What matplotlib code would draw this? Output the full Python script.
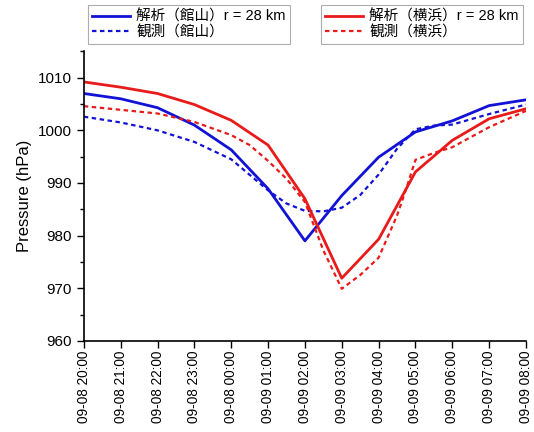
import matplotlib.pyplot as plt
from matplotlib.ticker import MultipleLocator

plt.rcParams['font.family'] = ['Liberation Sans', 'Noto Sans CJK JP']

# hours after 09-08 20:00
tick_labels = ["09-08 20:00", "09-08 21:00", "09-08 22:00", "09-08 23:00",
               "09-08 00:00", "09-09 01:00", "09-09 02:00", "09-09 03:00",
               "09-09 04:00", "09-09 05:00", "09-09 06:00", "09-09 07:00",
               "09-09 08:00"]
hours = list(range(13))

# analysis (hourly)
tateyama_ana = [1007.0, 1006.0, 1004.3, 1001.0, 996.3, 988.9, 979.0,
                987.6, 994.9, 999.7, 1001.8, 1004.7, 1005.8]
yokohama_ana = [1009.2, 1008.2, 1007.0, 1004.9, 1001.9, 997.2, 987.0,
                971.9, 979.3, 992.1, 998.1, 1002.2, 1004.1]

# observation
tateyama_obs_t = [0, 1, 2, 3, 4, 5, 5.5, 6, 6.5, 7, 7.5, 8, 8.5, 9, 9.5, 10, 11, 12]
tateyama_obs = [1002.6, 1001.5, 1000.0, 997.8, 994.5, 988.6, 986.1, 984.7, 984.6,
                985.3, 987.7, 991.6, 996.5, 1000.2, 1000.9, 1001.1, 1003.1, 1004.9]
yokohama_obs_t = [0, 1, 2, 3, 4, 4.5, 5, 5.5, 6, 6.5, 7, 7.5, 8, 8.5, 8.75, 9,
                  9.5, 10, 11, 12]
yokohama_obs = [1004.6, 1003.9, 1003.2, 1001.6, 999.1, 997.2, 994.2, 990.8, 986.4,
                977.2, 969.9, 972.5, 975.8, 983.8, 988.9, 994.4, 995.7, 996.8,
                1000.6, 1003.7]

blue = '#1212d6'
red = '#e81a1a'

fig = plt.figure(figsize=(5.34, 4.32), dpi=100)
ax = fig.add_axes([0.157, 0.211, 0.828, 0.67])

l1, = ax.plot(hours, tateyama_ana, color=blue, lw=2.0)
l2, = ax.plot(tateyama_obs_t, tateyama_obs, color=blue, lw=1.6, ls=(0, (2, 1.6)))
l3, = ax.plot(hours, yokohama_ana, color=red, lw=2.0)
l4, = ax.plot(yokohama_obs_t, yokohama_obs, color=red, lw=1.6, ls=(0, (2, 1.6)))

ax.set_xlim(0, 12)
ax.set_ylim(960, 1015)
ax.set_xticks(hours)
ax.set_xticklabels(tick_labels, rotation=90, fontsize=9.8)
ax.yaxis.set_major_locator(MultipleLocator(10))
ax.yaxis.set_minor_locator(MultipleLocator(5))
ax.tick_params(axis='y', labelsize=11, direction='out', length=5, width=1)
ax.tick_params(axis='y', which='minor', direction='out', length=3, width=1)
ax.tick_params(axis='x', direction='out', length=5, width=1, pad=2)
ax.set_ylabel("Pressure (hPa)", fontsize=12)
for s in ['top', 'right']:
    ax.spines[s].set_visible(False)
for s in ['left', 'bottom']:
    ax.spines[s].set_linewidth(1.2)

leg_kw = dict(fontsize=10.5, frameon=True, fancybox=False, edgecolor='#999999',
              handlelength=2.6, handletextpad=0.4, borderpad=0.3,
              labelspacing=0.1, borderaxespad=0)
leg1 = fig.legend([l1, l2], ["解析（館山）r = 28 km", "観測（館山）"],
                  loc='upper left', bbox_to_anchor=(0.165, 0.988), **leg_kw)
leg1.get_frame().set_linewidth(0.8)
leg2 = fig.legend([l3, l4], ["解析（横浜）r = 28 km", "観測（横浜）"],
                  loc='upper left', bbox_to_anchor=(0.601, 0.988), **leg_kw)
leg2.get_frame().set_linewidth(0.8)

plt.savefig("out.png", dpi=100)
